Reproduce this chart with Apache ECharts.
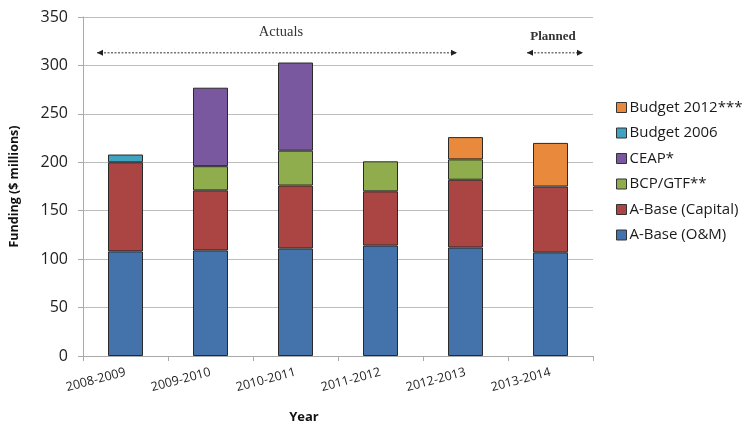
<!DOCTYPE html>
<html><head><meta charset="utf-8">
<script src="https://cdn.jsdelivr.net/npm/echarts@6/dist/echarts.min.js"></script>
<style>html,body{margin:0;padding:0;background:#fff}#c{width:750px;height:430px}</style>
</head><body><div id="c"></div>
<script>
const years = ['2008-2009','2009-2010','2010-2011','2011-2012','2012-2013','2013-2014'];
const aBaseOM      = [108, 109, 111, 114, 112, 107];
const aBaseCapital = [92, 62, 65, 56, 70, 68];
const bcpGtf       = [null, 25, 36, 31, 21, null];
const ceap         = [null, 81, 91, null, null, null];
const budget2006   = [8, null, null, null, null, null];
const budget2012   = [null, null, null, null, 23, 45];
const yTicks = [0, 50, 100, 150, 200, 250, 300, 350];

const font = '"Open Sans", sans-serif';
const chart = echarts.init(document.getElementById('c'));
function bar(name, data, color) {
  return { name, type: 'bar', stack: 'f', data, barWidth: 35,
    itemStyle: { color, borderColor: '#2a2a2a', borderWidth: 1 } };
}
chart.setOption({
  animation: false,
  grid: { left: 82, right: 157, top: 17, bottom: 74 },
  legend: {
    orient: 'vertical', left: 611, top: 95, itemGap: 10.5,
    itemWidth: 10, itemHeight: 10, icon: 'rect',
    textStyle: { fontFamily: font, fontSize: 15, color: '#1a1a1a', padding: [0, 0, 0, -2] },
    itemStyle: { borderColor: '#333', borderWidth: 1 },
    data: ['Budget 2012***','Budget 2006','CEAP*','BCP/GTF**','A-Base (Capital)','A-Base (O&M)']
  },
  xAxis: {
    type: 'category', data: years,
    axisLine: { lineStyle: { color: '#aaa' } },
    axisTick: { show: true, length: 5, lineStyle: { color: '#aaa' } },
    axisLabel: { rotate: 15, fontFamily: font, fontSize: 12.5, color: '#222', margin: 16 }
  },
  yAxis: {
    type: 'value', min: 0, max: 350, interval: 50,
    name: 'Funding ($ millions)', nameLocation: 'middle', nameGap: 62,
    nameTextStyle: { fontFamily: font, fontSize: 12.5, fontWeight: 'bold', color: '#111' },
    axisLine: { show: true, lineStyle: { color: '#aaa' } },
    axisTick: { show: true, length: 5, lineStyle: { color: '#aaa' } },
    axisLabel: { fontFamily: font, fontSize: 16, color: '#222', margin: 15,
      formatter: v => yTicks.includes(v) ? String(v) : '' },
    splitLine: { lineStyle: { color: '#bdbdbd' } }
  },
  series: [
    bar('A-Base (O&M)', aBaseOM, '#4472ab'),
    bar('A-Base (Capital)', aBaseCapital, '#aa4543'),
    bar('BCP/GTF**', bcpGtf, '#8fad4c'),
    bar('CEAP*', ceap, '#7a58a0'),
    bar('Budget 2006', budget2006, '#40a3c2'),
    bar('Budget 2012***', budget2012, '#e9893b')
  ]
});

// annotations (Actuals / Planned arrows) anchored to value 313
const yA = chart.convertToPixel({ yAxisIndex: 0 }, 313);
function arrow(x1, x2, y) {
  return [
    { type: 'line', shape: { x1, y1: y, x2, y2: y }, style: { stroke: '#333', lineWidth: 1, lineDash: [2, 1.5] } },
    { type: 'polygon', shape: { points: [[x2, y], [x2 - 6, y - 3], [x2 - 6, y + 3]] }, style: { fill: '#222' } },
    { type: 'polygon', shape: { points: [[x1, y], [x1 + 6, y - 3], [x1 + 6, y + 3]] }, style: { fill: '#222' } }
  ];
}
chart.setOption({
  graphic: [
    ...arrow(97, 457, yA),
    ...arrow(527, 583, yA),
    { type: 'text', x: 281, y: yA - 21, style: { text: 'Actuals', font: '14.5px "Liberation Serif", serif', fill: '#333', textAlign: 'center', textVerticalAlign: 'middle' } },
    { type: 'text', x: 553, y: yA - 16, style: { text: 'Planned', font: 'bold 13px "Liberation Serif", serif', fill: '#333', textAlign: 'center', textVerticalAlign: 'middle' } },
    { type: 'text', x: 304, y: 417, style: { text: 'Year', font: 'bold 13px "Open Sans", sans-serif', fill: '#111', textAlign: 'center', textVerticalAlign: 'middle' } }
  ]
});
</script></body></html>
